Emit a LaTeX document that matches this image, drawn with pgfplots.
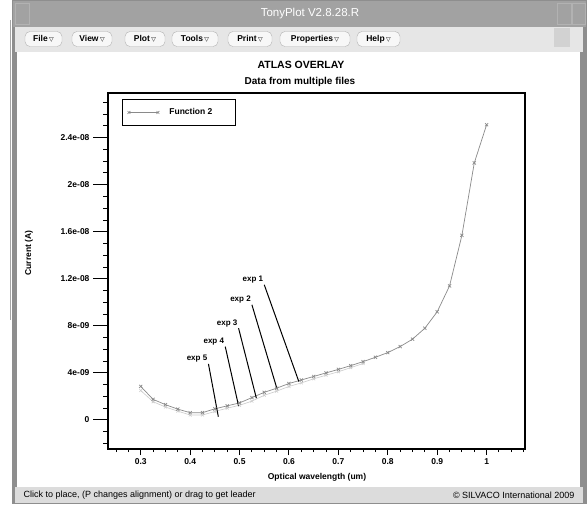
\documentclass[border=0pt]{standalone}
\usepackage{pgfplots}
\pgfplotsset{compat=1.18}
\usepackage{pgfplotstable}
\usepackage{fontspec}
\setmainfont{Liberation Sans}
\newfontfamily\dejavu{DejaVu Sans}

\definecolor{titlebar}{HTML}{A2A2A2}
\definecolor{menubar}{HTML}{E6E6E6}
\definecolor{statusbar}{HTML}{DCDCDC}
\definecolor{frame}{HTML}{8E8E8E}
\definecolor{curve}{HTML}{8A8A8A}

% current in units of 1e-9 A
\pgfplotstableread{
x     y
0.300 2.85
0.325 1.75
0.350 1.30
0.375 0.92
0.400 0.62
0.425 0.62
0.450 0.95
0.475 1.20
0.500 1.45
0.525 1.90
0.550 2.35
0.575 2.70
0.600 3.10
0.625 3.40
0.650 3.70
0.675 4.00
0.700 4.30
0.725 4.62
0.750 4.96
0.775 5.33
0.800 5.73
0.825 6.24
0.850 6.87
0.875 7.80
0.900 9.20
0.925 11.40
0.950 15.70
0.975 21.85
1.000 25.10
}\mainrun

\pgfplotstableread{
x     y
0.300 2.50
0.325 1.55
0.350 1.10
0.375 0.75
0.400 0.42
0.425 0.42
0.450 0.72
0.475 1.00
0.500 1.25
0.525 1.60
0.550 2.10
0.575 2.45
0.600 2.85
0.625 3.15
0.650 3.50
0.675 3.80
0.700 4.10
0.725 4.45
0.750 4.80
}\otherrun

\newcommand\ticksfont{\fontsize{8.5}{10}\selectfont\bfseries}
\newcommand\arr{\,{\dejavu\fontsize{6}{6}\selectfont ▽}}

\begin{document}
\begin{tikzpicture}
\path[use as bounding box] (0pt,0pt) rectangle (587pt,-504pt);

% window chrome
\begin{scope}[x=1pt,y=-1pt]
  \fill[white] (0,0) rectangle (587,504);
  \draw[gray!70, line width=0.8pt] (10,20) -- (10,320);
  \fill[frame] (12,0) rectangle (587,504);
  \fill[titlebar] (13,1) rectangle (586,27);
  \draw[gray!60] (15,3) rectangle (29,24);
  \draw[gray!60] (557,3) rectangle (571,24);
  \draw[gray!60] (572,3) rectangle (585,24);
  \node[white, font=\fontsize{11.5}{12}\selectfont] at (310,14) {TonyPlot V2.8.28.R};
  \fill[menubar] (15,27) rectangle (583,52);
  \fill[gray!35] (554,28) rectangle (570,47);
  \begin{scope}[every node/.style={draw=gray!60, fill=gray!6, rounded corners=5pt,
      inner xsep=2pt, inner ysep=2pt, minimum height=15pt,
      font=\fontsize{8.5}{9}\selectfont\bfseries}]
    \node[minimum width=37pt] at (43.5,39) {File\arr};
    \node[minimum width=40pt] at (92,39)   {View\arr};
    \node[minimum width=40pt] at (145,39)  {Plot\arr};
    \node[minimum width=46pt] at (195,39)  {Tools\arr};
    \node[minimum width=44pt] at (250,39)  {Print\arr};
    \node[minimum width=70pt] at (315,39)  {Properties\arr};
    \node[minimum width=43pt] at (378.5,39){Help\arr};
  \end{scope}
  \fill[white] (17,52) rectangle (580,487);
  \fill[statusbar] (15,487) rectangle (583,503);
  \node[anchor=west, font=\fontsize{9}{10}\selectfont] at (20,495)
    {Click to place, (P changes alignment) or drag to get leader};
  \node[anchor=east, font=\fontsize{9}{10}\selectfont] at (578,495)
    {© SILVACO International 2009};

  \node[font=\fontsize{10.5}{12}\selectfont\bfseries] at (301,65) {ATLAS OVERLAY};
  \node[font=\fontsize{10}{12}\selectfont\bfseries] at (300,82) {Data from multiple files};
  \node[rotate=90, font=\fontsize{8.5}{10}\selectfont\bfseries] at (29,253) {Current (A)};
  \node[font=\fontsize{8.5}{10}\selectfont\bfseries] at (317,477) {Optical wavelength (um)};
\end{scope}

% y ticks (long outward ticks)
\begin{axis}[
  at={(108pt,-449pt)}, anchor=south west,
  scale only axis, width=417pt, height=356pt,
  xmin=0.2337, xmax=1.0777, ymin=-2.47, ymax=27.8,
  hide x axis, axis y line*=left,
  y axis line style={line width=1.1pt, black, -},
  tick align=outside,
  ytick={0,4,8,12,16,20,24},
  yticklabels={0,4e-09,8e-09,1.2e-08,1.6e-08,2e-08,2.4e-08},
  minor ytick={-2,-1,...,27},
  major tick length=15pt, minor tick length=5pt,
  every tick/.style={black, line width=1pt},
  yticklabel style={font=\ticksfont},
]
\end{axis}

% main axis
\begin{axis}[
  at={(108pt,-449pt)}, anchor=south west,
  scale only axis, width=417pt, height=356pt,
  xmin=0.2337, xmax=1.0777, ymin=-2.47, ymax=27.8,
  axis line style={line width=1.1pt, black},
  tick pos=left, tick align=outside,
  xtick={0.3,0.4,0.5,0.6,0.7,0.8,0.9,1.0},
  xticklabels={0.3,0.4,0.5,0.6,0.7,0.8,0.9,1},
  minor xtick={0.25,0.275,0.325,0.35,0.375,0.425,0.45,0.475,0.525,0.55,0.575,
    0.625,0.65,0.675,0.725,0.75,0.775,0.825,0.85,0.875,0.925,0.95,0.975,1.025,1.05,1.075},
  ytick=\empty,
  major tick length=6pt, minor tick length=3pt,
  every tick/.style={black, line width=1pt},
  xticklabel style={font=\ticksfont},
  legend style={at={(0.0336,0.983)}, anchor=north west, draw=black, line width=1.1pt,
    inner xsep=5pt, inner ysep=7pt, font=\fontsize{8.5}{10}\selectfont\bfseries},
  legend cell align=left,
  legend image code/.code={
    \draw[#1, line width=0.6pt, mark size=2pt] plot coordinates {(1.5pt,0pt) (30.5pt,0pt)};
  },
]
\addplot[gray!40, line width=0.6pt, mark=x, mark size=2pt, forget plot] table[x=x,y=y]{\otherrun};
\addplot[curve, line width=0.7pt, mark=x, mark size=2.2pt] table[x=x,y=y]{\mainrun};
\addlegendentry{\hspace*{8pt}Function 2\hspace*{16pt}}

\begin{scope}[line width=1pt, black]
  \draw (axis cs:0.550,11.49) -- (axis cs:0.620,3.26);
  \draw (axis cs:0.525,9.79) -- (axis cs:0.576,2.61);
  \draw (axis cs:0.498,7.80) -- (axis cs:0.534,1.85);
  \draw (axis cs:0.471,6.24) -- (axis cs:0.498,1.19);
  \draw (axis cs:0.437,4.77) -- (axis cs:0.457,0.28);
\end{scope}
\begin{scope}[every node/.style={anchor=south east, inner sep=1pt,
    font=\fontsize{8}{9}\selectfont\bfseries}]
  \node at (axis cs:0.550,11.49) {exp 1};
  \node at (axis cs:0.525,9.79) {exp 2};
  \node at (axis cs:0.498,7.80) {exp 3};
  \node at (axis cs:0.471,6.24) {exp 4};
  \node at (axis cs:0.437,4.77) {exp 5};
\end{scope}
\end{axis}
\end{tikzpicture}
\end{document}
